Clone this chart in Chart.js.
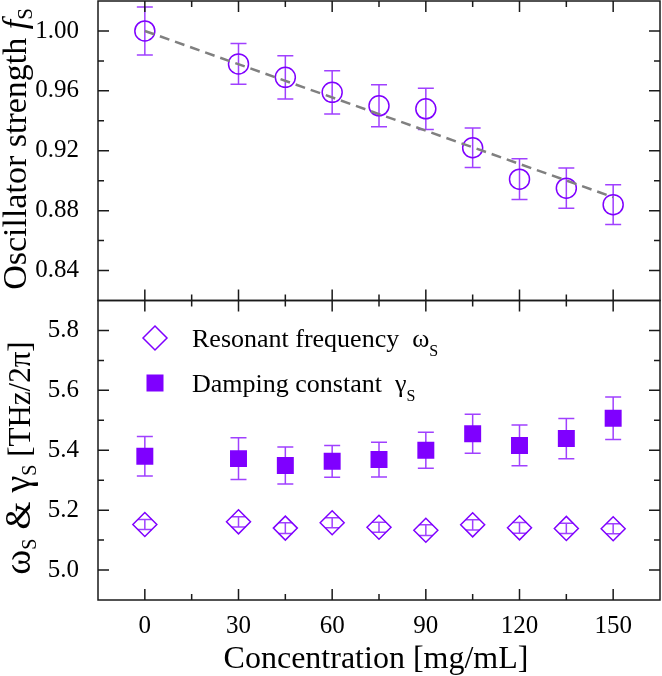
<!DOCTYPE html>
<html>
<head>
<meta charset="utf-8">
<script src="https://cdn.jsdelivr.net/npm/chart.js@4"></script>
<style>
  html, body { margin: 0; padding: 0; background: #fff; }
  canvas { display: block; }
</style>
</head>
<body>
<canvas id="myChart" width="662" height="676"></canvas>
<script>
// concentrations [mg/mL]
const conc = [0, 30, 45, 60, 75, 90, 105, 120, 135, 150];

// oscillator strength fS and its error
const fs    = [1.000, 0.978, 0.969, 0.959, 0.950, 0.948, 0.922, 0.901, 0.895, 0.884];
const fsErr = [0.016, 0.0136, 0.0144, 0.0145, 0.014, 0.0138, 0.0132, 0.0136, 0.0134, 0.0133];

// linear fit (end points)
const fitX = [0, 150];
const fitY = [1.000, 0.889];

// resonant frequency wS [THz/2pi]
const omega    = [5.152, 5.161, 5.140, 5.158, 5.143, 5.133, 5.151, 5.141, 5.139, 5.138];
const omegaErr = [0.017, 0.017, 0.018, 0.017, 0.017, 0.018, 0.017, 0.018, 0.017, 0.017];

// damping constant gS [THz/2pi]
const gamma    = [5.380, 5.372, 5.349, 5.363, 5.369, 5.400, 5.455, 5.416, 5.439, 5.507];
const gammaErr = [0.066, 0.070, 0.062, 0.053, 0.058, 0.060, 0.065, 0.068, 0.067, 0.071];

// labelled ticks
const xLabels = [0, 30, 60, 90, 120, 150];
const fLabels = [0.84, 0.88, 0.92, 0.96, 1.00];
const wLabels = [5.0, 5.2, 5.4, 5.6, 5.8];

const SERIF = "'Liberation Serif', 'Times New Roman', serif";
const PURPLE = '#7f00ff';
const BAR = '#a040ff';

function hasLabel(list, v) {
  return list.some(l => Math.abs(l - v) < 1e-6);
}

function pts(xs, ys) {
  return xs.map((x, i) => ({ x: x, y: ys[i] }));
}

// draws a run of text pieces (normal / italic / subscript) starting at x
function drawParts(ctx, parts, x, y, center) {
  let w = 0;
  parts.forEach(p => { ctx.font = p.font; w += ctx.measureText(p.t).width; });
  let cx = center ? x - w / 2 : x;
  parts.forEach(p => {
    ctx.font = p.font;
    ctx.fillText(p.t, cx, y + (p.dy || 0));
    cx += ctx.measureText(p.t).width;
  });
}

// no extra room round the plot for half labels
function noPadX(s) { s.height = 76; s.paddingLeft = 0; s.paddingRight = 0; }
function noPadY(s) { s.width = 98; s.paddingTop = 0; s.paddingBottom = 0; }

const errorBars = {
  id: 'errorBars',
  beforeDatasetsDraw(chart) {
    const ctx = chart.ctx;
    const xs = chart.scales.x;
    function bars(vals, errs, ys, cap) {
      ctx.save();
      ctx.strokeStyle = BAR;
      ctx.lineWidth = 1.5;
      conc.forEach((c, i) => {
        const px = xs.getPixelForValue(c);
        const y1 = ys.getPixelForValue(vals[i] + errs[i]);
        const y2 = ys.getPixelForValue(vals[i] - errs[i]);
        ctx.beginPath();
        ctx.moveTo(px, y1); ctx.lineTo(px, y2);
        ctx.moveTo(px - cap, y1); ctx.lineTo(px + cap, y1);
        ctx.moveTo(px - cap, y2); ctx.lineTo(px + cap, y2);
        ctx.stroke();
      });
      ctx.restore();
    }
    bars(fs, fsErr, chart.scales.y, 8);
    bars(gamma, gammaErr, chart.scales.y2, 8);
    bars(omega, omegaErr, chart.scales.y2, 7);
  }
};

const frameAndText = {
  id: 'frameAndText',
  afterDatasetsDraw(chart) {
    const ctx = chart.ctx;
    const area = chart.chartArea;
    const xs = chart.scales.x;
    ctx.save();
    ctx.strokeStyle = '#1a1a1a';
    ctx.lineWidth = 1.5;
    [chart.scales.y, chart.scales.y2].forEach(s => {
      const top = s.top, bottom = s.bottom;
      ctx.strokeRect(area.left, top, area.right - area.left, bottom - top);
      ctx.beginPath();
      s.ticks.forEach(t => {
        const py = s.getPixelForValue(t.value);
        if (py <= top + 1 || py >= bottom - 1) return;
        const len = t.label ? 11 : 6;
        ctx.moveTo(area.left, py); ctx.lineTo(area.left + len, py);
        ctx.moveTo(area.right, py); ctx.lineTo(area.right - len, py);
      });
      xs.ticks.forEach(t => {
        const px = xs.getPixelForValue(t.value);
        if (px <= area.left + 1 || px >= area.right - 1) return;
        const len = t.label ? 11 : 6;
        ctx.moveTo(px, top); ctx.lineTo(px, top + len);
        ctx.moveTo(px, bottom); ctx.lineTo(px, bottom - len);
      });
      ctx.stroke();
    });

    // legend in the lower panel
    ctx.fillStyle = '#000';
    ctx.textBaseline = 'alphabetic';
    ctx.textAlign = 'left';
    ctx.strokeStyle = PURPLE;
    ctx.lineWidth = 1.5;
    ctx.beginPath();
    ctx.moveTo(155 - 12, 338); ctx.lineTo(155, 326); ctx.lineTo(155 + 12, 338); ctx.lineTo(155, 350);
    ctx.closePath();
    ctx.stroke();
    ctx.fillStyle = PURPLE;
    ctx.fillRect(155 - 8.5, 383 - 8.5, 17, 17);
    ctx.fillStyle = '#000';
    drawParts(ctx, [
      { t: 'Resonant frequency  \u03c9', font: '26px ' + SERIF },
      { t: 'S', font: '16px ' + SERIF, dy: 9 }
    ], 192, 347, false);
    drawParts(ctx, [
      { t: 'Damping constant  \u03b3', font: '26px ' + SERIF },
      { t: 'S', font: '16px ' + SERIF, dy: 9 }
    ], 192, 392, false);

    // axis titles
    drawParts(ctx, [
      { t: 'Concentration [mg/mL]', font: '32px ' + SERIF }
    ], 376, 668, true);

    ctx.save();
    ctx.translate(26, 149);
    ctx.rotate(-Math.PI / 2);
    drawParts(ctx, [
      { t: 'Oscillator strength ', font: '34px ' + SERIF },
      { t: 'f', font: 'italic 34px ' + SERIF },
      { t: 'S', font: '21px ' + SERIF, dy: 6 }
    ], 0, 0, true);
    ctx.restore();

    ctx.save();
    ctx.translate(30, 458);
    ctx.rotate(-Math.PI / 2);
    drawParts(ctx, [
      { t: '\u03c9', font: '38px ' + SERIF },
      { t: 'S', font: '20px ' + SERIF, dy: 6 },
      { t: ' & ', font: '36px ' + SERIF },
      { t: '\u03b3', font: '38px ' + SERIF },
      { t: 'S', font: '20px ' + SERIF, dy: 6 },
      { t: ' [THz/2\u03c0]', font: '31px ' + SERIF }
    ], 0, 0, true);
    ctx.restore();
    ctx.restore();
  }
};

const tickFont = { family: SERIF, size: 25 };

const ctx = document.getElementById('myChart').getContext('2d');
const myChart = new Chart(ctx, {
  type: 'scatter',
  data: {
    datasets: [
      {
        label: 'fit',
        type: 'line',
        data: pts(fitX, fitY),
        yAxisID: 'y',
        borderColor: '#808080',
        borderWidth: 2.5,
        borderDash: [10, 6],
        pointRadius: 0,
        fill: false
      },
      {
        label: 'Oscillator strength',
        data: pts(conc, fs),
        yAxisID: 'y',
        pointStyle: 'circle',
        pointRadius: 10,
        borderColor: PURPLE,
        backgroundColor: 'rgba(0,0,0,0)',
        borderWidth: 1.5
      },
      {
        label: 'Resonant frequency',
        data: pts(conc, omega),
        yAxisID: 'y2',
        pointStyle: 'rectRot',
        pointRadius: 12,
        borderColor: PURPLE,
        backgroundColor: 'rgba(0,0,0,0)',
        borderWidth: 1.5
      },
      {
        label: 'Damping constant',
        data: pts(conc, gamma),
        yAxisID: 'y2',
        pointStyle: 'rect',
        pointRadius: 12,
        borderColor: PURPLE,
        backgroundColor: PURPLE,
        borderWidth: 0
      }
    ]
  },
  options: {
    responsive: false,
    animation: false,
    layout: { autoPadding: false, padding: { top: 1, right: 2, left: 0, bottom: 0 } },
    plugins: {
      legend: { display: false },
      tooltip: { enabled: false }
    },
    scales: {
      x: {
        type: 'linear',
        min: -15,
        max: 165,
        grid: { display: false },
        border: { display: false },
        ticks: {
          stepSize: 15,
          padding: 3,
          color: '#000',
          font: tickFont,
          maxRotation: 0,
          autoSkip: false,
          callback: v => hasLabel(xLabels, v) ? String(v) : ''
        },
        afterFit: noPadX
      },
      // lower panel listed first: stacked left axes are placed bottom-up
      y2: {
        type: 'linear',
        position: 'left',
        stack: 'panels',
        stackWeight: 1,
        min: 4.9,
        max: 5.9,
        grid: { display: false },
        border: { display: false },
        ticks: {
          stepSize: 0.1,
          padding: 11,
          color: '#000',
          font: tickFont,
          autoSkip: false,
          callback: v => hasLabel(wLabels, v) ? v.toFixed(1) : ''
        },
        afterFit: noPadY
      },
      y: {
        type: 'linear',
        position: 'left',
        stack: 'panels',
        stackWeight: 1,
        min: 0.82,
        max: 1.02,
        grid: { display: false },
        border: { display: false },
        ticks: {
          stepSize: 0.02,
          padding: 11,
          color: '#000',
          font: tickFont,
          autoSkip: false,
          callback: v => hasLabel(fLabels, v) ? v.toFixed(2) : ''
        },
        afterFit: noPadY
      }
    }
  },
  plugins: [errorBars, frameAndText]
});
</script>
</body>
</html>
